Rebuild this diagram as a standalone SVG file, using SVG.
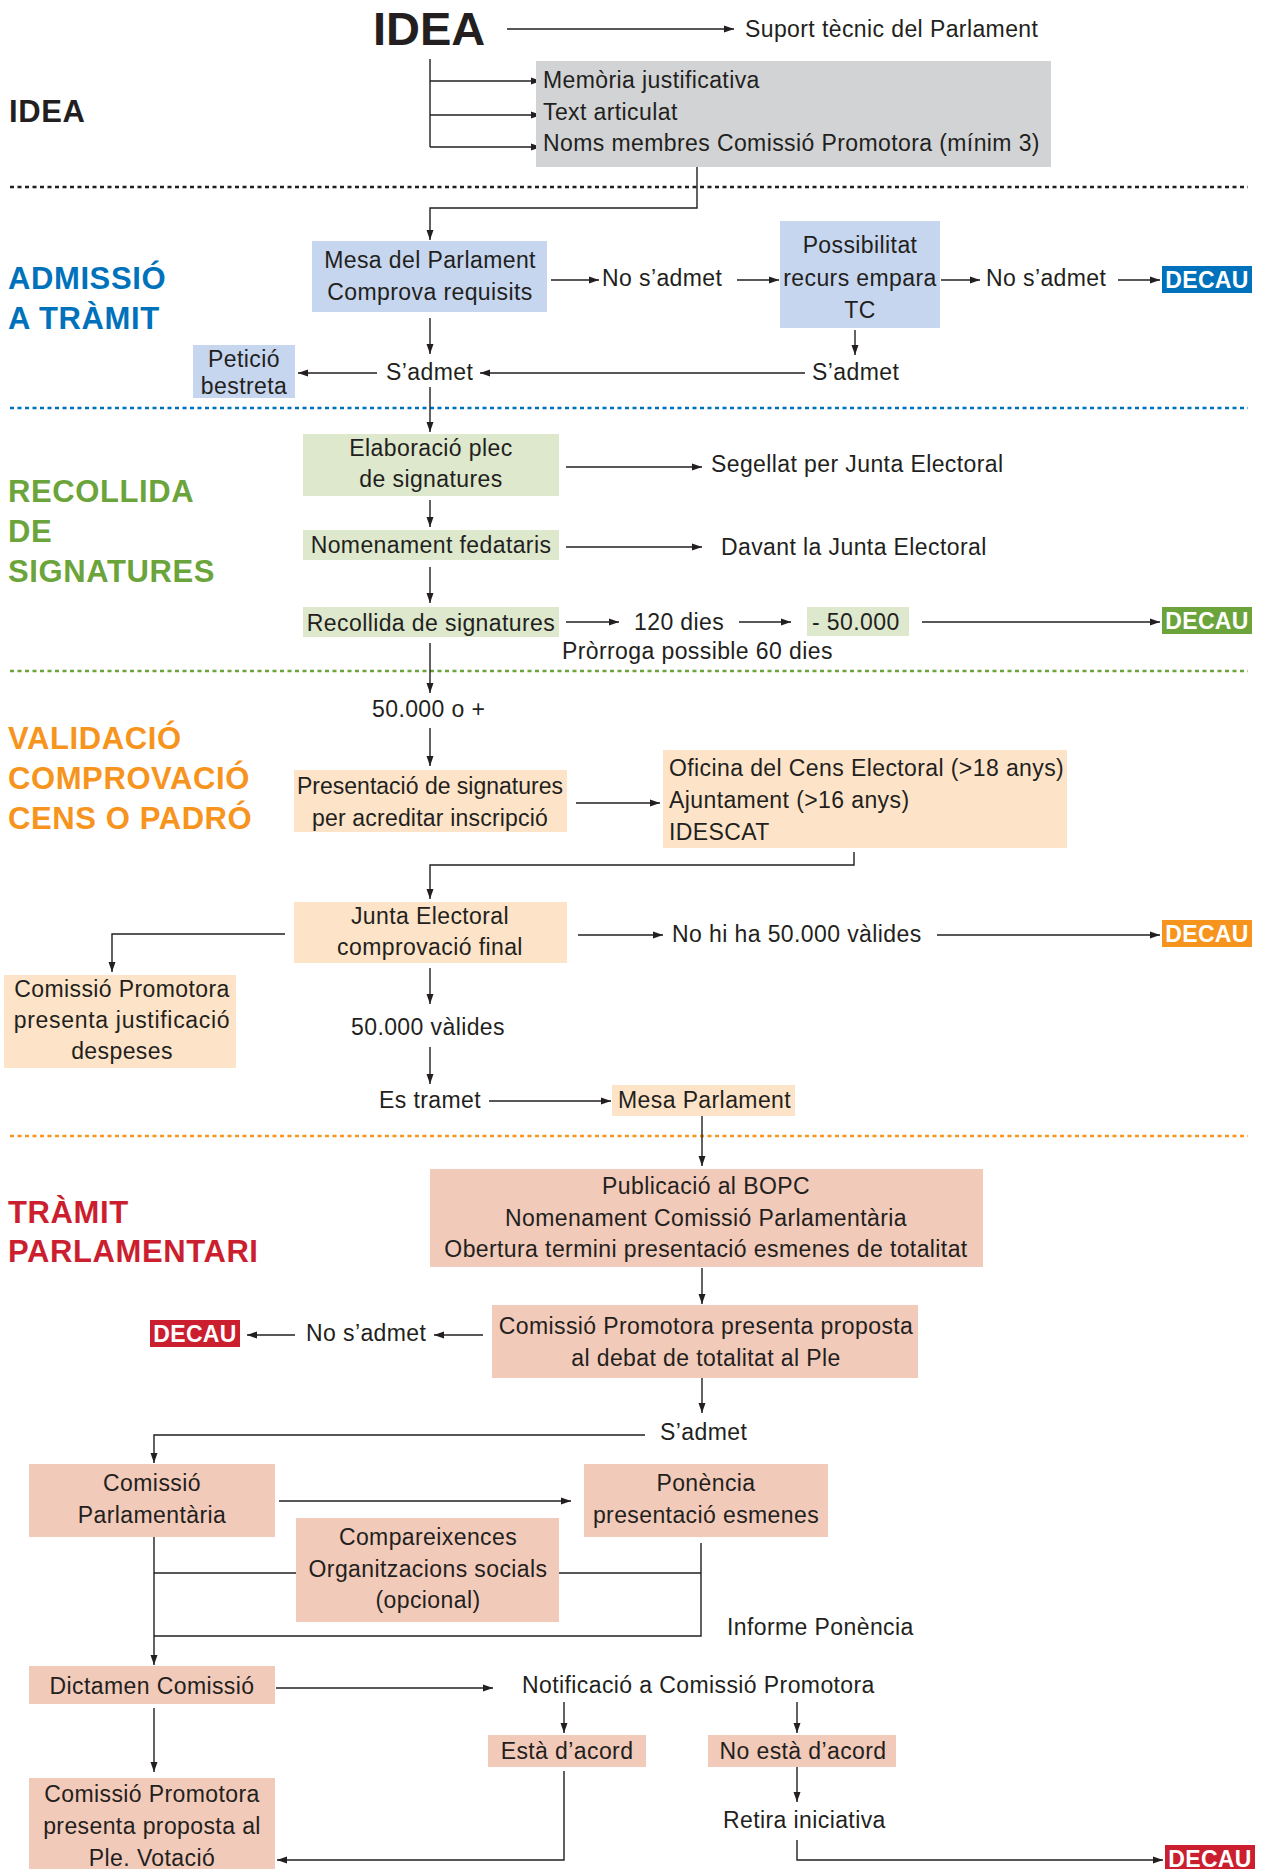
<svg xmlns="http://www.w3.org/2000/svg" width="1272" height="1869" viewBox="0 0 1272 1869">
<style>
.t{font-family:"Liberation Sans",Arial,sans-serif;font-size:23px;fill:#231f20;letter-spacing:0.4px}
.c{text-anchor:middle}
.lbl{font-family:"Liberation Sans",Arial,sans-serif;font-size:31px;font-weight:bold;letter-spacing:0.6px}
.dec{font-family:"Liberation Sans",Arial,sans-serif;font-size:23px;font-weight:bold;fill:#fff;text-anchor:middle;letter-spacing:0.3px}
.ln{stroke:#231f20;stroke-width:1.4;fill:none}
.ar{marker-end:url(#ah)}
.sep{stroke-width:2.6;stroke-dasharray:4 3.5;fill:none}
.gray{fill:#d1d3d4}
.blue{fill:#c6d6ee}
.green{fill:#dde8cd}
.peach{fill:#fde4c8}
.salmon{fill:#f2cab9}
</style>
<defs>
<marker id="ah" markerWidth="10" markerHeight="8" refX="10" refY="4" orient="auto" markerUnits="userSpaceOnUse">
<path d="M0,0.5 L10,4 L0,7.5 z" fill="#231f20"/>
</marker>
</defs>
<rect width="1272" height="1869" fill="#fff"/>

<g id="separators">
<line class="sep" x1="10" y1="187" x2="1248" y2="187" stroke="#231f20"/>
<line class="sep" x1="10" y1="408" x2="1248" y2="408" stroke="#0072bc"/>
<line class="sep" x1="10" y1="671" x2="1248" y2="671" stroke="#6ba43a"/>
<line class="sep" x1="10" y1="1136" x2="1248" y2="1136" stroke="#f7941d"/>
</g>

<g id="section-labels">
<text class="lbl" x="9" y="122" fill="#231f20">IDEA</text>
<text class="lbl" x="8" y="289" fill="#0072bc">ADMISSIÓ</text>
<text class="lbl" x="8" y="329" fill="#0072bc">A TRÀMIT</text>
<text class="lbl" x="8" y="502" fill="#6ba43a">RECOLLIDA</text>
<text class="lbl" x="8" y="542" fill="#6ba43a">DE</text>
<text class="lbl" x="8" y="582" fill="#6ba43a">SIGNATURES</text>
<text class="lbl" x="8" y="749" fill="#f7941d">VALIDACIÓ</text>
<text class="lbl" x="8" y="789" fill="#f7941d">COMPROVACIÓ</text>
<text class="lbl" x="8" y="829" fill="#f7941d">CENS O PADRÓ</text>
<text class="lbl" x="8" y="1223" fill="#cb1f2f">TRÀMIT</text>
<text class="lbl" x="8" y="1262" fill="#cb1f2f">PARLAMENTARI</text>
</g>

<g id="connectors">
<line class="ln ar" x1="507" y1="29" x2="734" y2="29"/>
<line class="ln" x1="430" y1="59" x2="430" y2="147"/>
<line class="ln ar" x1="430" y1="81" x2="541" y2="81"/>
<line class="ln ar" x1="430" y1="115" x2="541" y2="115"/>
<line class="ln ar" x1="430" y1="147" x2="541" y2="147"/>
<path class="ln ar" d="M697,162 V208 H430 V240"/>
<line class="ln ar" x1="551" y1="280" x2="599" y2="280"/>
<line class="ln ar" x1="737" y1="280" x2="779" y2="280"/>
<line class="ln ar" x1="941" y1="280" x2="980" y2="280"/>
<line class="ln ar" x1="1118" y1="280" x2="1160" y2="280"/>
<line class="ln ar" x1="430" y1="318" x2="430" y2="354"/>
<line class="ln ar" x1="855" y1="330" x2="855" y2="355"/>
<line class="ln ar" x1="805" y1="373" x2="480" y2="373"/>
<line class="ln ar" x1="377" y1="373" x2="298" y2="373"/>
<line class="ln ar" x1="430" y1="387" x2="430" y2="432"/>
<line class="ln ar" x1="566" y1="467" x2="702" y2="467"/>
<line class="ln ar" x1="430" y1="500" x2="430" y2="527"/>
<line class="ln ar" x1="566" y1="547" x2="702" y2="547"/>
<line class="ln ar" x1="430" y1="567" x2="430" y2="603"/>
<line class="ln ar" x1="566" y1="622" x2="619" y2="622"/>
<line class="ln ar" x1="739" y1="622" x2="791" y2="622"/>
<line class="ln ar" x1="922" y1="622" x2="1160" y2="622"/>
<line class="ln ar" x1="430" y1="643" x2="430" y2="693"/>
<line class="ln ar" x1="430" y1="728" x2="430" y2="766"/>
<line class="ln ar" x1="576" y1="803" x2="660" y2="803"/>
<path class="ln ar" d="M854,852 V865 H430 V899"/>
<line class="ln ar" x1="578" y1="935" x2="663" y2="935"/>
<line class="ln ar" x1="937" y1="935" x2="1160" y2="935"/>
<path class="ln ar" d="M285,934 H112 V972"/>
<line class="ln ar" x1="430" y1="968" x2="430" y2="1004"/>
<line class="ln ar" x1="430" y1="1047" x2="430" y2="1084"/>
<line class="ln ar" x1="489" y1="1101" x2="611" y2="1101"/>
<line class="ln ar" x1="702" y1="1116" x2="702" y2="1166"/>
<line class="ln ar" x1="702" y1="1268" x2="702" y2="1304"/>
<line class="ln ar" x1="483" y1="1335" x2="434" y2="1335"/>
<line class="ln ar" x1="295" y1="1335" x2="247" y2="1335"/>
<line class="ln ar" x1="702" y1="1378" x2="702" y2="1413"/>
<path class="ln ar" d="M645,1435 H154 V1463"/>
<line class="ln ar" x1="279" y1="1501" x2="571" y2="1501"/>
<line class="ln ar" x1="154" y1="1537" x2="154" y2="1665"/>
<line class="ln" x1="154" y1="1573" x2="296" y2="1573"/>
<line class="ln" x1="559" y1="1573" x2="701" y2="1573"/>
<path class="ln" d="M701,1543 V1636 H154"/>
<line class="ln ar" x1="276" y1="1688" x2="493" y2="1688"/>
<line class="ln ar" x1="564" y1="1702" x2="564" y2="1733"/>
<line class="ln ar" x1="797" y1="1702" x2="797" y2="1733"/>
<line class="ln ar" x1="797" y1="1767" x2="797" y2="1802"/>
<path class="ln ar" d="M797,1840 V1860 H1163"/>
<line class="ln ar" x1="154" y1="1708" x2="154" y2="1772"/>
<path class="ln ar" d="M564,1771 V1860 H277"/>
</g>

<g id="idea-title"><text x="373" y="45" font-family="Liberation Sans, Arial, sans-serif" font-size="47" font-weight="bold" fill="#231f20">IDEA</text></g>
<g id="suport"><text class="t" x="745" y="37">Suport tècnic del Parlament</text></g>
<g id="requisits-idea">
<rect class="gray" x="536" y="61" width="515" height="106"/>
<text class="t" x="543" y="88">Memòria justificativa</text>
<text class="t" x="543" y="120">Text articulat</text>
<text class="t" x="543" y="151">Noms membres Comissió Promotora (mínim 3)</text>
</g>

<g id="mesa">
<rect class="blue" x="312" y="241" width="235" height="71"/>
<text class="t c" x="430" y="268">Mesa del Parlament</text>
<text class="t c" x="430" y="300">Comprova requisits</text>
</g>
<g id="no-admet-1"><text class="t" x="602" y="286">No s’admet</text></g>
<g id="possibilitat">
<rect class="blue" x="780" y="221" width="160" height="107"/>
<text class="t c" x="860" y="253">Possibilitat</text>
<text class="t c" x="860" y="286">recurs empara</text>
<text class="t c" x="860" y="318">TC</text>
</g>
<g id="no-admet-2"><text class="t" x="986" y="286">No s’admet</text></g>
<g id="decau-blue"><rect x="1162" y="266" width="90" height="27" fill="#0072bc"/><text class="dec" x="1207" y="288">DECAU</text></g>
<g id="sadmet-1"><text class="t" x="386" y="380">S’admet</text></g>
<g id="sadmet-2"><text class="t" x="812" y="380">S’admet</text></g>
<g id="peticio">
<rect class="blue" x="193" y="345" width="102" height="53"/>
<text class="t c" x="244" y="367">Petició</text>
<text class="t c" x="244" y="394">bestreta</text>
</g>

<g id="elaboracio">
<rect class="green" x="303" y="434" width="256" height="62"/>
<text class="t c" x="431" y="456">Elaboració plec</text>
<text class="t c" x="431" y="487">de signatures</text>
</g>
<g id="segellat"><text class="t" x="711" y="472">Segellat per Junta Electoral</text></g>
<g id="nomenament">
<rect class="green" x="303" y="530" width="256" height="30"/>
<text class="t c" x="431" y="553">Nomenament fedataris</text>
</g>
<g id="davant"><text class="t" x="721" y="555">Davant la Junta Electoral</text></g>
<g id="recollida">
<rect class="green" x="303" y="607" width="256" height="30"/>
<text class="t c" x="431" y="631">Recollida de signatures</text>
</g>
<g id="dies"><text class="t" x="634" y="630">120 dies</text></g>
<g id="menys50">
<rect class="green" x="807" y="607" width="102" height="29"/>
<text class="t" x="812" y="630">- 50.000</text>
</g>
<g id="decau-green"><rect x="1162" y="607" width="90" height="27" fill="#6ba43a"/><text class="dec" x="1207" y="629">DECAU</text></g>
<g id="prorroga"><text class="t" x="562" y="659">Pròrroga possible 60 dies</text></g>

<g id="cinquanta-mes"><text class="t" x="372" y="717">50.000 o +</text></g>
<g id="presentacio">
<rect class="peach" x="294" y="770" width="273" height="62"/>
<text class="t c" x="430" y="794" style="letter-spacing:0">Presentació de signatures</text>
<text class="t c" x="430" y="826" style="letter-spacing:0.2px">per acreditar inscripció</text>
</g>
<g id="oficina">
<rect class="peach" x="663" y="750" width="404" height="98"/>
<text class="t" x="669" y="776">Oficina del Cens Electoral (&gt;18 anys)</text>
<text class="t" x="669" y="808">Ajuntament (&gt;16 anys)</text>
<text class="t" x="669" y="840">IDESCAT</text>
</g>
<g id="junta">
<rect class="peach" x="294" y="902" width="273" height="61"/>
<text class="t c" x="430" y="924">Junta Electoral</text>
<text class="t c" x="430" y="955">comprovació final</text>
</g>
<g id="no-hi-ha"><text class="t" x="672" y="942">No hi ha 50.000 vàlides</text></g>
<g id="decau-orange"><rect x="1162" y="920" width="90" height="27" fill="#f7941d"/><text class="dec" x="1207" y="942">DECAU</text></g>
<g id="justificacio">
<rect class="peach" x="4" y="975" width="232" height="93"/>
<text class="t c" x="122" y="997">Comissió Promotora</text>
<text class="t c" x="122" y="1028" style="letter-spacing:0.7px">presenta justificació</text>
<text class="t c" x="122" y="1059">despeses</text>
</g>
<g id="valides"><text class="t" x="351" y="1035">50.000 vàlides</text></g>
<g id="es-tramet"><text class="t" x="379" y="1108">Es tramet</text></g>
<g id="mesa-parlament">
<rect class="peach" x="612" y="1085" width="183" height="31"/>
<text class="t" x="618" y="1108">Mesa Parlament</text>
</g>

<g id="publicacio">
<rect class="salmon" x="430" y="1169" width="553" height="98"/>
<text class="t c" x="706" y="1194">Publicació al BOPC</text>
<text class="t c" x="706" y="1226">Nomenament Comissió Parlamentària</text>
<text class="t c" x="706" y="1257">Obertura termini presentació esmenes de totalitat</text>
</g>
<g id="proposta">
<rect class="salmon" x="492" y="1305" width="426" height="73"/>
<text class="t c" x="706" y="1334">Comissió Promotora presenta proposta</text>
<text class="t c" x="706" y="1366">al debat de totalitat al Ple</text>
</g>
<g id="no-admet-3"><text class="t" x="306" y="1341">No s’admet</text></g>
<g id="decau-red-1"><rect x="150" y="1320" width="90" height="27" fill="#cb1f2f"/><text class="dec" x="195" y="1342">DECAU</text></g>
<g id="sadmet-3"><text class="t" x="660" y="1440">S’admet</text></g>
<g id="comissio-parl">
<rect class="salmon" x="29" y="1464" width="246" height="73"/>
<text class="t c" x="152" y="1491">Comissió</text>
<text class="t c" x="152" y="1523">Parlamentària</text>
</g>
<g id="ponencia">
<rect class="salmon" x="584" y="1464" width="244" height="73"/>
<text class="t c" x="706" y="1491">Ponència</text>
<text class="t c" x="706" y="1523">presentació esmenes</text>
</g>
<g id="compareixences">
<rect class="salmon" x="296" y="1518" width="263" height="104"/>
<text class="t c" x="428" y="1545">Compareixences</text>
<text class="t c" x="428" y="1577">Organitzacions socials</text>
<text class="t c" x="428" y="1608">(opcional)</text>
</g>
<g id="informe"><text class="t" x="727" y="1635">Informe Ponència</text></g>
<g id="dictamen">
<rect class="salmon" x="29" y="1666" width="246" height="38"/>
<text class="t c" x="152" y="1694">Dictamen Comissió</text>
</g>
<g id="notificacio"><text class="t" x="522" y="1693">Notificació a Comissió Promotora</text></g>
<g id="esta-acord">
<rect class="salmon" x="488" y="1735" width="158" height="32"/>
<text class="t c" x="567" y="1759">Està d’acord</text>
</g>
<g id="no-esta-acord">
<rect class="salmon" x="708" y="1735" width="188" height="32"/>
<text class="t c" x="803" y="1759">No està d’acord</text>
</g>
<g id="retira"><text class="t" x="723" y="1828">Retira iniciativa</text></g>
<g id="decau-red-2"><rect x="1165" y="1845" width="90" height="27" fill="#cb1f2f"/><text class="dec" x="1210" y="1867">DECAU</text></g>
<g id="votacio">
<rect class="salmon" x="29" y="1778" width="246" height="95"/>
<text class="t c" x="152" y="1802">Comissió Promotora</text>
<text class="t c" x="152" y="1834">presenta proposta al</text>
<text class="t c" x="152" y="1866">Ple. Votació</text>
</g>
</svg>
